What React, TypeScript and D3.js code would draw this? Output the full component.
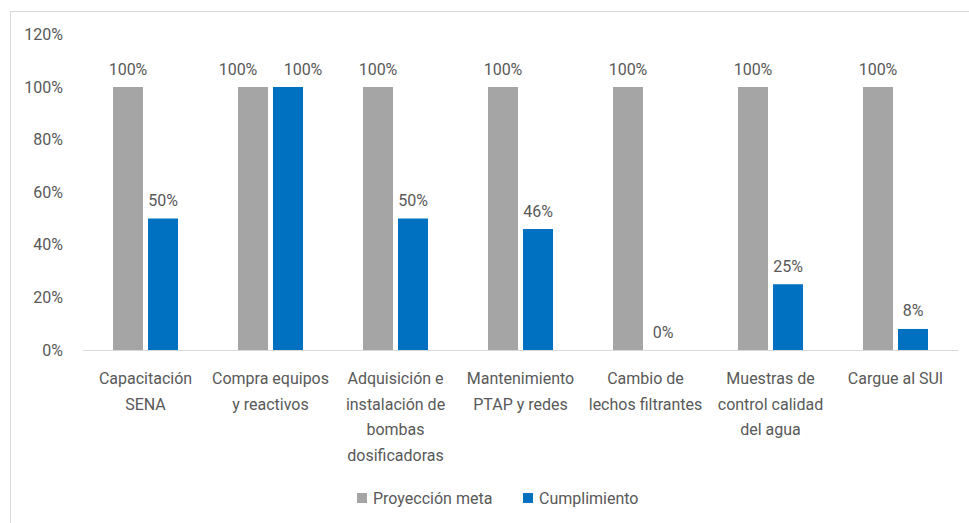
import React from 'react';
import * as d3 from 'd3';

const categories = [
  'Capacitación SENA',
  'Compra equipos y reactivos',
  'Adquisición e instalación de bombas dosificadoras',
  'Mantenimiento PTAP y redes',
  'Cambio de lechos filtrantes',
  'Muestras de control calidad del agua',
  'Cargue al SUI',
];
const categoryLines = [
  ['Capacitación', 'SENA'],
  ['Compra equipos', 'y reactivos'],
  ['Adquisición e', 'instalación de', 'bombas', 'dosificadoras'],
  ['Mantenimiento', 'PTAP y redes'],
  ['Cambio de', 'lechos filtrantes'],
  ['Muestras de', 'control calidad', 'del agua'],
  ['Cargue al SUI'],
];
const seriesNames = ['Proyección meta', 'Cumplimiento'];
const proyeccion = [1, 1, 1, 1, 1, 1, 1];
const cumplimiento = [0.5, 1, 0.5, 0.46, 0, 0.25, 0.08];
const yTicks = [0, 0.2, 0.4, 0.6, 0.8, 1, 1.2];
const colors = ['#A5A5A5', '#0070C0'];

const W = 969;
const H = 523;
const font = 'Roboto, "Liberation Sans", sans-serif';
const textColor = '#595959';

export default function App() {
  const x = d3.scaleBand<string>().domain(categories).range([83, 958]);
  const inner = d3.scaleBand<string>().domain(seriesNames).range([-32.5, 32.5]).paddingInner(1 / 7);
  const y = d3.scaleLinear().domain([0, 1.2]).range([350, 34.4]);
  const fmt = d3.format('.0%');
  const values = [proyeccion, cumplimiento];

  return (
    <svg width={W} height={H} style={{ position: 'absolute', left: 0, top: 0, background: '#fff' }} fontFamily={font}>
      <rect x={10.5} y={11.5} width={1000} height={600} fill="#fff" stroke="#D9D9D9" />

      {yTicks.map((t) => (
        <text key={t} x={63} y={y(t)} dy="0.35em" textAnchor="end" fontSize={16} fill={textColor}>
          {fmt(t)}
        </text>
      ))}

      <line x1={83} x2={958} y1={y(0) + 0.5} y2={y(0) + 0.5} stroke="#D9D9D9" strokeWidth={1} />

      {categories.map((c, i) => {
        const cx = (x(c) ?? 0) + x.bandwidth() / 2;
        // labels at the same height would collide: push them apart
        const collide = Math.abs(y(values[0][i]) - y(values[1][i])) < 14;
        return (
          <g key={c}>
            {seriesNames.map((s, si) => {
              const v = values[si][i];
              const bx = cx + (inner(s) ?? 0);
              const nudge = collide ? (si === 0 ? -15 : 15) : 0;
              return (
                <g key={s}>
                  {v > 0 && (
                    <rect x={bx} y={y(v)} width={inner.bandwidth()} height={y(0) - y(v)} fill={colors[si]} />
                  )}
                  <text
                    x={bx + inner.bandwidth() / 2 + nudge}
                    y={y(v) - 12.5}
                    textAnchor="middle"
                    fontSize={16}
                    fill={textColor}
                  >
                    {fmt(v)}
                  </text>
                </g>
              );
            })}
            {categoryLines[i].map((line, li) => (
              <text key={li} x={cx} y={384 + li * 25.5} textAnchor="middle" fontSize={16} fill={textColor}>
                {line}
              </text>
            ))}
          </g>
        );
      })}

      <g>
        <rect x={357} y={493} width={10} height={10} fill={colors[0]} />
        <text x={373} y={503.5} fontSize={16} fill={textColor}>
          {seriesNames[0]}
        </text>
        <rect x={523} y={493} width={10} height={10} fill={colors[1]} />
        <text x={539} y={503.5} fontSize={16} fill={textColor}>
          {seriesNames[1]}
        </text>
      </g>
    </svg>
  );
}
